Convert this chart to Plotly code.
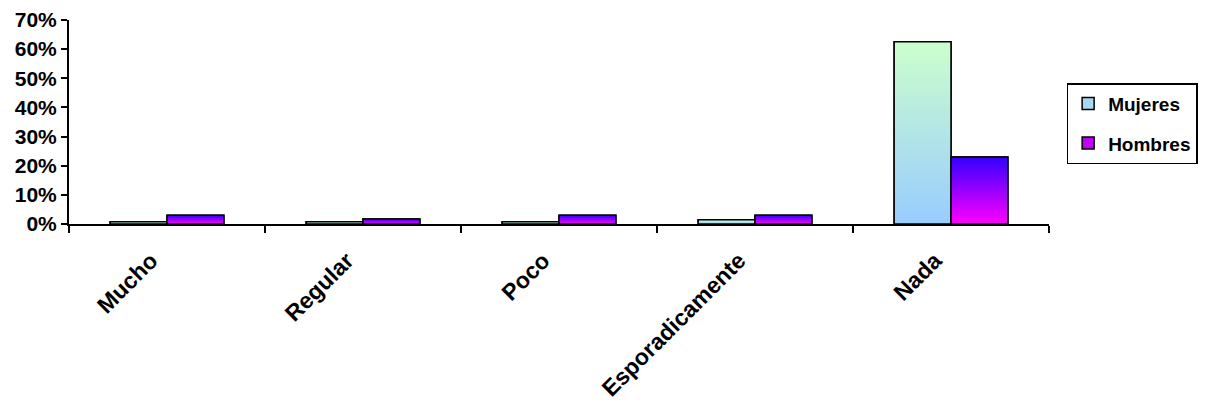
import plotly.graph_objects as go

categories = ["Mucho", "Regular", "Poco", "Esporadicamente", "Nada"]
mujeres = [0.008, 0.008, 0.008, 0.015, 0.625]
hombres = [0.03, 0.017, 0.03, 0.03, 0.23]

series_names = ["Mujeres", "Hombres"]
legend_colors = ["#A8D8F8", "#C000F8"]
gradients = [
    [[0, "#99CCFF"], [1, "#CCFFCC"]],
    [[0, "#FF00FF"], [1, "#3300FF"]],
]

FONT = "Arial, Liberation Sans, sans-serif"
BAR_GAP = 0.42
BAR_W = (1 - BAR_GAP) / 2

fig = go.Figure()

for k, (name, vals) in enumerate(zip(series_names, [mujeres, hombres])):
    fig.add_trace(go.Bar(
        x=categories, y=vals, name=name, legendgroup=name,
        marker=dict(color=legend_colors[k], line=dict(color="black", width=1.5)),
        hoverinfo="skip",
    ))

# gradient overlays drawn on a hidden numeric axis aligned with the category axis
for k, (name, vals) in enumerate(zip(series_names, [mujeres, hombres])):
    for i, v in enumerate(vals):
        x0 = i - BAR_W + k * BAR_W
        x1 = x0 + BAR_W
        fig.add_trace(go.Scatter(
            x=[x0, x1, x1, x0, x0], y=[0, 0, v, v, 0],
            xaxis="x2", mode="lines", fill="toself",
            fillgradient=dict(type="vertical", colorscale=gradients[k]),
            line=dict(color="black", width=1.5),
            showlegend=False, hoverinfo="skip",
        ))

# page body has an 8px default margin, so the figure is 8px smaller each way
fig.update_layout(
    width=1201, height=395,
    margin=dict(l=61, r=160, t=12, b=179, autoexpand=False),
    paper_bgcolor="white", plot_bgcolor="white",
    barmode="group", bargap=BAR_GAP, bargroupgap=0,
    font=dict(family=FONT, size=21, color="black", weight="bold"),
    xaxis=dict(
        type="category", range=[-0.5, 4.5], tickson="boundaries",
        ticks="outside", ticklen=7, tickwidth=1.5, tickcolor="black",
        showline=True, linecolor="black", linewidth=2, showgrid=False,
        tickangle=-45, tickfont=dict(size=23, weight="bold"),
        ticklabelstandoff=12, ticklabelshift=-16,
        automargin=False,
    ),
    xaxis2=dict(overlaying="x", range=[-0.5, 4.5], visible=False),
    yaxis=dict(
        range=[0, 0.7], dtick=0.1, tickformat=".0%",
        ticks="outside", ticklen=6, tickwidth=1.5, tickcolor="black",
        showline=True, linecolor="black", linewidth=2, showgrid=False,
        zeroline=False, tickfont=dict(size=21, weight="bold"),
        automargin=False,
    ),
    legend=dict(
        x=1.018, y=0.691, xanchor="left", yanchor="top",
        bordercolor="black", borderwidth=1.5, bgcolor="white",
        font=dict(size=19, weight="bold"), traceorder="grouped",
        tracegroupgap=12, itemwidth=30,
    ),
)

fig.write_html("out.html")
